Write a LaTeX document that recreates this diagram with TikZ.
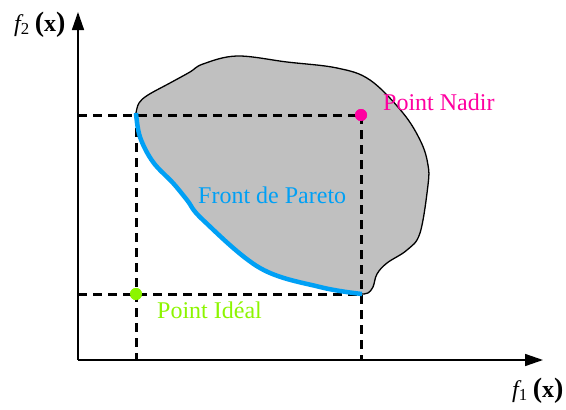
\documentclass[tikz,border=0pt]{standalone}
\usepackage{fontspec}
\setmainfont{Liberation Serif}
\usetikzlibrary{arrows.meta}
\definecolor{blobgray}{RGB}{192,192,192}
\definecolor{paretoblue}{RGB}{0,160,245}
\definecolor{nadirpink}{RGB}{255,0,160}
\definecolor{idealgreen}{RGB}{140,245,0}
\tikzset{
  axisline/.style={line width=1.5pt,-{Triangle[length=18pt,width=12pt]}},
  guide/.style={line width=3pt,dash pattern=on 9pt off 6pt},
  dotmark/.style={circle,inner sep=0pt,minimum size=12pt},
  lbl/.style={inner sep=0pt,font=\fontsize{24}{28}\selectfont},
}
\newcommand{\axlab}[1]{{\itshape f}\textsubscript{#1}\hspace{5pt}{\bfseries\fontsize{28}{30}\selectfont(}{\bfseries x}{\bfseries\fontsize{28}{30}\selectfont)}}
\begin{document}
\begin{tikzpicture}[x=1pt,y=-1pt]
\useasboundingbox (0,0) rectangle (566,410);
% coordinates
\coordinate (O) at (78,360);
\coordinate (Ytip) at (78,12);
\coordinate (Xtip) at (543,360);
\coordinate (Ny) at (78,115);
\coordinate (Iy) at (78,294);
\coordinate (Nx) at (361,360);
\coordinate (Ix) at (136,360);
\coordinate (Itop) at (136,113);
% feasible region
\fill[blobgray]
  plot[smooth,tension=0.6] coordinates {(136,113) (139,103) (148,95) (170,83) (190,72) (203,64) (237,56) (287,62) (337,68) (370,80) (403,113) (421,142) (428,165) (428,185) (420,233) (407,250) (387,263) (377,274) (373,287) (368,293) (362,294)}
  -- plot[smooth,tension=0.6] coordinates {(362,294) (320,287) (260,268) (203,220) (187,200) (173,183) (153,162) (140,137) (136,113)}
  -- cycle;
\draw[line width=1.3pt]
  plot[smooth,tension=0.6] coordinates {(136,113) (139,103) (148,95) (170,83) (190,72) (203,64) (237,56) (287,62) (337,68) (370,80) (403,113) (421,142) (428,165) (428,185) (420,233) (407,250) (387,263) (377,274) (373,287) (368,293) (362,294)};
% guides
\node[dotmark,fill=nadirpink] (N) at (361,115) {};
\node[dotmark,fill=idealgreen] (I) at (136,294) {};
\draw[guide] (Ny) -- (N.center);
\draw[guide] (N.center) -- (Nx);
\draw[guide] (Iy) -- (I.center) -- (361,294);
\draw[guide] (Itop) -- (Ix);
% pareto front
\draw[paretoblue,line width=4.5pt]
  plot[smooth,tension=0.6] coordinates {(362,294) (320,287) (260,268) (203,220) (187,200) (173,183) (153,162) (140,137) (136,113)};
\node[dotmark,fill=nadirpink] at (N) {};
\node[dotmark,fill=idealgreen] at (I) {};
% axes
\draw[axisline] (O) -- (Ytip);
\draw[axisline] (O) -- (Xtip);
% labels
\node[lbl,anchor=base west,text=nadirpink] (tn) at (383,110) {Point Nadir};
\node[lbl,anchor=base west,text=idealgreen] (ti) at (157,318) {Point Idéal};
\node[lbl,anchor=base west,text=paretoblue] (tp) at (198,203) {Front de Pareto};
\node[lbl,anchor=base west] (ly) at (14,31) {\axlab{2}};
\node[lbl,anchor=base west] (lx) at (512,397) {\axlab{1}};
\end{tikzpicture}
\end{document}
